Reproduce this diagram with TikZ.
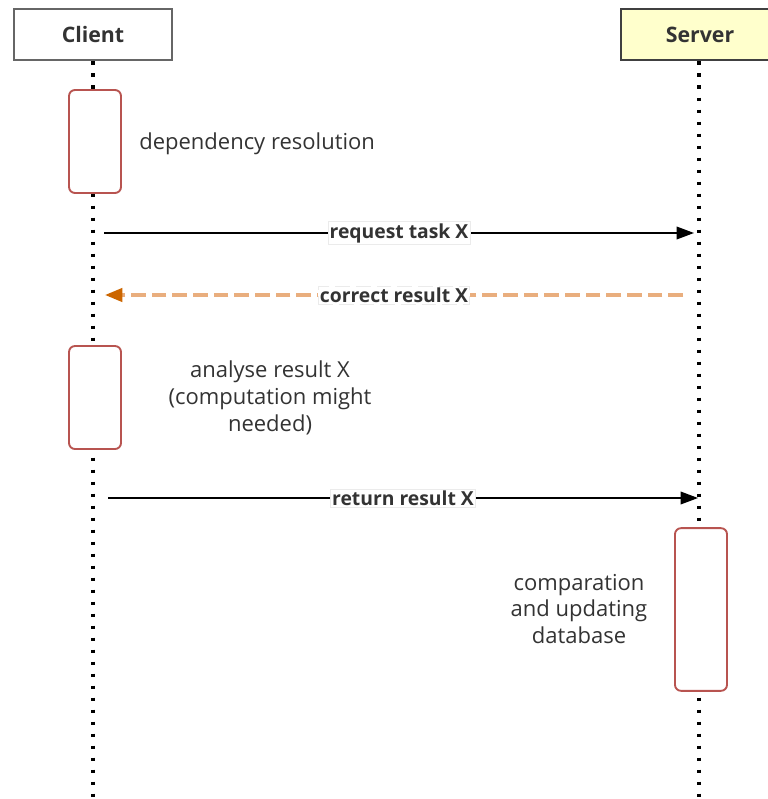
\documentclass[tikz,border=0pt]{standalone}
\usepackage{fontspec}
\setmainfont{Open Sans}
\usetikzlibrary{arrows.meta}
\definecolor{txt}{HTML}{333333}
\definecolor{actred}{HTML}{B85450}
\definecolor{srvfill}{HTML}{FFFFCC}
\definecolor{dashor}{HTML}{E9AE7E}
\definecolor{heador}{HTML}{CC6600}
\begin{document}
\begin{tikzpicture}[x=0.75pt,y=-0.75pt,
  actor/.style={draw, line width=1.5pt, minimum width=118.5pt, minimum height=38.25pt, inner sep=0pt, font=\bfseries\fontsize{16}{18}\selectfont, text=txt},
  lifeline/.style={line width=2.3pt, dash pattern=on 2.5pt off 6.5pt, black},
  activ/.style={draw=actred, line width=1.4pt, fill=white, rounded corners=4.5pt, minimum width=39pt, inner sep=0pt},
  msg/.style={line width=1pt, -{Triangle[length=13pt,width=9.5pt]}},
  lbl/.style={fill=white, draw=black!8, line width=0.5pt, inner sep=1.2pt, font=\bfseries\fontsize{14.5}{16}\selectfont, text=txt},
  note/.style={font=\fontsize{16.5}{20}\selectfont, text=txt, align=center, inner sep=0pt}
]
\useasboundingbox (0,0) rectangle (767,799);
\fill[white] (0,0) rectangle (767,799);

\node[actor, draw=black!60, fill=white] (client) at (93,35) {Client};
\node[actor, draw=black!75, fill=srvfill] (server) at (700,35) {Server};

\coordinate (clend) at (93,799);
\coordinate (svend) at (699,799);
\draw[lifeline] (client.south) -- (clend);
\draw[lifeline] (server.south -| svend) -- (svend);

\node[activ, minimum height=77.25pt] (a1) at (95,141.5) {};
\node[activ, minimum height=77.25pt] (a2) at (95,397.5) {};
\node[activ, minimum height=122pt] (a3) at (701,609.5) {};

\node[note, anchor=west] (t1) at (139,144) {dependency resolution};
\node[note] (t2) at (270,398) {analyse result X\\(computation might\\needed)};
\node[note] (t3) at (579,609) {comparation\\and updating\\database};

\coordinate (m1s) at (104,233);
\coordinate (m1e) at (694,233);
\draw[msg, black] (m1s) -- node[lbl] (l1) {request task X} (m1e);

\coordinate (m2s) at (683,295);
\coordinate (m2e) at (105,295);
\draw[line width=2.4pt, dashor, dash pattern=on 11pt off 4.5pt, -{Triangle[length=13pt,width=10pt,fill=heador,color=heador]}] (m2s) -- node[lbl] (l2) {correct result X} (m2e);

\coordinate (m3s) at (108,498);
\coordinate (m3e) at (698,498);
\draw[msg, black] (m3s) -- node[lbl] (l3) {return result X} (m3e);
\end{tikzpicture}
\end{document}
